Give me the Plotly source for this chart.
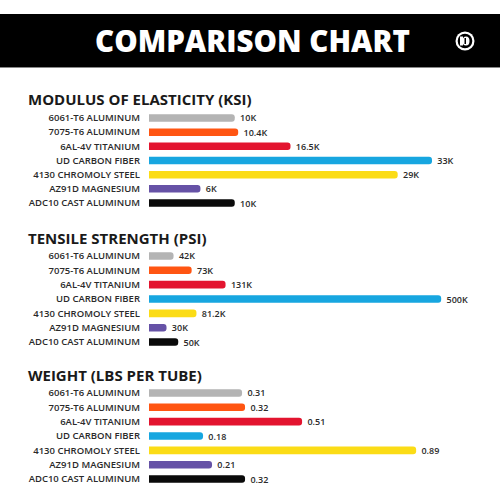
import plotly.graph_objects as go

materials = ["6061-T6 ALUMINUM", "7075-T6 ALUMINUM", "6AL-4V TITANIUM", "UD CARBON FIBER",
             "4130 CHROMOLY STEEL", "AZ91D MAGNESIUM", "ADC10 CAST ALUMINUM"]
colors = ["#b4b4b4", "#ff5512", "#e3142f", "#17a6e0", "#fbdc16", "#6652a6", "#0a0a0a"]

modulus_ksi_k = [10, 10.4, 16.5, 33, 29, 6, 10]
tensile_psi_k = [42, 73, 131, 500, 81.2, 30, 50]
weight_lbs = [0.31, 0.32, 0.51, 0.18, 0.89, 0.21, 0.32]

panel_titles = ["MODULUS OF ELASTICITY (KSI)", "TENSILE STRENGTH (PSI)", "WEIGHT (LBS PER TUBE)"]
header_title = "COMPARISON CHART"

W, H = 500, 500
FONT = "Open Sans"
TXT = "#2a2a2a"

fig = go.Figure()

panels = [
    (modulus_ksi_k, " %{x}K", [0, 352 / 8.6], (110.9, 210.1), 99),
    (tensile_psi_k, " %{x}K", [0, 352 / 0.586], (248.8, 349.2), 238),
    (weight_lbs, " %{x}", [0, 352 / 301], (385.8, 486.2), 375),
]

x0 = 149 / W
for i, (vals, tmpl, xr, (ytop, ybot), ty) in enumerate(panels):
    n = "" if i == 0 else str(i + 1)
    fig.add_trace(go.Bar(
        x=vals, y=materials, orientation="h",
        marker=dict(color=colors, cornerradius=4, line=dict(width=0)),
        texttemplate=tmpl, textposition="outside", cliponaxis=False, constraintext="none",
        textfont=dict(family=FONT, size=9, color=TXT, weight=600),
        xaxis="x" + n, yaxis="y" + n, hoverinfo="skip", showlegend=False,
    ))
    fig.layout["xaxis" + n] = dict(domain=[x0, 1], range=xr, visible=False, fixedrange=True,
                                   anchor="y" + n)
    fig.layout["yaxis" + n] = dict(domain=[(H - ybot) / H, (H - ytop) / H], autorange="reversed",
                                   anchor="x" + n, showgrid=False, zeroline=False, showline=False,
                                   ticks="", ticklabelstandoff=8,
                                   tickfont=dict(family=FONT, size=9.5, color=TXT, weight=600))
    fig.add_annotation(x=26 / W, y=(H - ty) / H, xref="paper", yref="paper",
                       xanchor="left", yanchor="middle", showarrow=False,
                       text=panel_titles[i],
                       font=dict(family=FONT, size=15, color="#1a1a1a", weight=700))

shapes = [
    dict(type="rect", xref="paper", yref="paper", x0=0, x1=1, y0=(H - 67) / H, y1=(H - 14) / H,
         fillcolor="#000000", line=dict(width=0), layer="below"),
    dict(type="line", xref="paper", yref="paper", x0=0, x1=1, y0=(H - 67.5) / H, y1=(H - 67.5) / H,
         line=dict(color="#888888", width=1)),
    # icon
    dict(type="circle", xref="paper", yref="paper", x0=(465 - 9.5) / W, x1=(465 + 9.5) / W,
         y0=(H - 41 - 9.5) / H, y1=(H - 41 + 9.5) / H, fillcolor="white", line=dict(width=0)),
    dict(type="circle", xref="paper", yref="paper", x0=(465 - 7.3) / W, x1=(465 + 7.3) / W,
         y0=(H - 41 - 7.3) / H, y1=(H - 41 + 7.3) / H, fillcolor="black", line=dict(width=0)),
    dict(type="rect", xref="paper", yref="paper", x0=(460) / W, x1=(463) / W,
         y0=(H - 45.5) / H, y1=(H - 36.5) / H, fillcolor="white", line=dict(width=0)),
    dict(type="circle", xref="paper", yref="paper", x0=(462.5) / W, x1=(469.5) / W,
         y0=(H - 45.5) / H, y1=(H - 36.5) / H, fillcolor="white", line=dict(width=0)),
    dict(type="rect", xref="paper", yref="paper", x0=(464.5) / W, x1=(466) / W,
         y0=(H - 44) / H, y1=(H - 38) / H, fillcolor="black", line=dict(width=0)),
]

fig.add_annotation(x=252 / W, y=(H - 41) / H, xref="paper", yref="paper",
                   xanchor="center", yanchor="middle", showarrow=False,
                   text=header_title,
                   font=dict(family=FONT, size=29.5, color="white", weight=800))

fig.update_layout(
    width=W, height=H, margin=dict(l=0, r=0, t=0, b=0),
    paper_bgcolor="white", plot_bgcolor="white",
    bargap=0.47, shapes=shapes,
)

fig.write_html("out.html", config={"displayModeBar": False},
               post_script="document.body.style.margin='0';document.body.style.overflow='hidden';")
